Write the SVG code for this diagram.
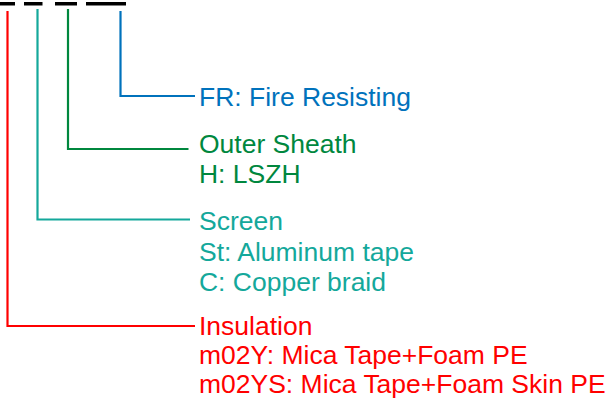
<svg xmlns="http://www.w3.org/2000/svg" width="608" height="398" viewBox="0 0 608 398">
<style>
text{font-family:"Liberation Sans",Arial,sans-serif;font-size:25px}
.l{fill:none;stroke-width:2.2}
.red{stroke:#ff0000}.teal{stroke:#14a89b}.green{stroke:#00873e}.blue{stroke:#0072bc}
.tred{fill:#ff0000}.tteal{fill:#14a89b}.tgreen{fill:#00873e}.tblue{fill:#0072bc}
</style>
<rect width="608" height="398" fill="#fff"/>
<g id="underlines" fill="#000">
<rect x="0" y="2" width="15" height="3.5"/>
<rect x="24" y="2" width="18.5" height="3.5"/>
<rect x="55" y="2" width="22" height="3.5"/>
<rect x="86" y="2" width="40" height="3.5"/>
</g>
<g id="connectors">
<polyline class="l red" points="7.5,11 7.5,326 195,326"/>
<polyline class="l teal" points="37.5,9 37.5,219.5 190,219.5"/>
<polyline class="l green" points="68,9 68,149 188.5,149"/>
<polyline class="l blue" points="120.5,11 120.5,96 195,96"/>
</g>
<g transform="matrix(1.06,0,0,1,-11.94,0)">
<g id="fr"><text class="tblue" x="199" y="106">FR: Fire Resisting</text></g>
<g id="sheath"><text class="tgreen" x="199" y="153">Outer Sheath</text><text class="tgreen" x="199" y="183">H: LSZH</text></g>
<g id="screen"><text class="tteal" x="199" y="230">Screen</text><text class="tteal" x="199" y="261">St: Aluminum tape</text><text class="tteal" x="199" y="291">C: Copper braid</text></g>
<g id="insulation"><text class="tred" x="199" y="335">Insulation</text><text class="tred" x="199" y="364">m02Y: Mica Tape+Foam PE</text><text class="tred" x="199" y="393">m02YS: Mica Tape+Foam Skin PE</text></g>
</g>
</svg>
